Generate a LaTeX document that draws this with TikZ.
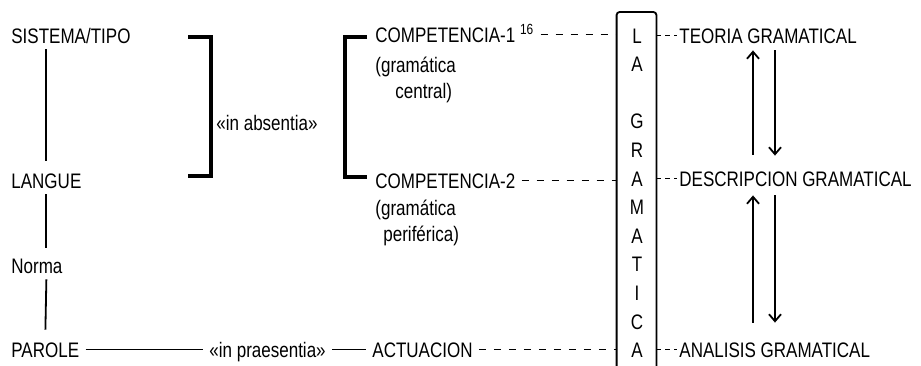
\documentclass[tikz,border=0pt]{standalone}
\usepackage{fontspec}
\setmainfont{Liberation Sans}[FakeStretch=0.81]
\usepackage{tikz}
\usetikzlibrary{arrows.meta}
\usetikzlibrary{positioning}
\tikzstyle{term}=[anchor=base west,inner sep=3pt,text height=7.5pt,text depth=0pt]
\tikzstyle{nivel}=[anchor=base west,inner sep=1pt,text height=7.5pt,text depth=0pt]
\tikzstyle{letra}=[anchor=base,inner sep=0pt]
\tikzstyle{enlace}=[draw,line width=0.9pt]
\tikzstyle{guion}=[draw,line width=0.9pt,dash pattern=on 3.5pt off 4pt]
\tikzstyle{guioncito}=[draw,line width=0.9pt,dash pattern=on 2.5pt off 2pt]
\tikzstyle{corchete}=[draw,line width=1.7pt]
\tikzstyle{flecha}=[draw,line width=0.9pt,-{Straight Barb[length=3.5pt,width=6pt]}]

\begin{document}
\begin{tikzpicture}[x=0.5pt,y=-0.5pt,font=\fontsize{10.5}{12.5}\selectfont]
\useasboundingbox (0,0) rectangle (921,365);

	% left column
	\node[term] (sis) at (5,43) {SISTEMA/TIPO};
	\node[term] (lan) at (5,188) {LANGUE};
	\node[term] (nor) at (5,273) {Norma};
	\node[term] (par) at (5,357) {PAROLE};

	\path[enlace,shorten >=3pt] (sis.south -| lan) -- (lan.north);
	\path[enlace,shorten >=2pt] (lan.south) -- (nor.north -| lan);
	\path[enlace,shorten >=3pt] (nor.south -| lan) -- (par.north);

	\node[term] (abs) at (210,130) {«in absentia»};
	\path[corchete] (188,37) -| (211,176) -- (188,176);
	\path[corchete] (367,37) -| (345,177) -- (367,177);

	% competencias
	\node[term] (com1) at (369,42) {COMPETENCIA-1 \textsuperscript{16}};
	\node[term] (gc1) at (369,72) {(gramática};
	\node[term] (gc2) at (389,98) {central)};
	\node[term] (com2) at (369,188) {COMPETENCIA-2};
	\node[term] (gp1) at (369,215) {(gramática};
	\node[term] (gp2) at (377,241) {periférica)};

	\node[term] (prae) at (203,357) {«in praesentia»};
	\node[term] (act) at (366,357) {ACTUACION};

	\path[enlace] (par.east) -- (prae.west);
	\path[enlace] (prae.east) -- (act.west);

	% la gramatica
	\node[inner sep=0pt,minimum width=19.5pt,minimum height=177pt,anchor=north] (gram) at (636.5,12) {};
	\draw[line width=0.9pt,rounded corners=1.5pt] (gram.south west) |- (gram.north) -| (gram.south east);
	\foreach \l/\k in {L/0,A/1,G/3,R/4,A/5,M/6,A/7,T/8,I/9,C/10,A/11}
		\node[letra] (l\k) at (637,43+28.6*\k) {\l};

	\path[guion] (com1.east) -- (com1.east -| gram.west);
	\path[guion] (com2.east) -- (com2.east -| gram.west);
	\path[guion] (act.east) -- (act.east -| gram.west);

	% niveles
	\node[nivel] (teo) at (677,43) {TEORIA GRAMATICAL};
	\node[nivel] (des) at (677,186) {DESCRIPCION GRAMATICAL};
	\node[nivel] (ana) at (677,357) {ANALISIS GRAMATICAL};

	\path[guioncito] (teo.west -| gram.east) -- (teo.west);
	\path[guioncito] (des.west -| gram.east) -- (des.west);
	\path[guioncito] (ana.west -| gram.east) -- (ana.west);

	\coordinate (sube) at (753,0);
	\coordinate (baja) at (775,0);
	\path[flecha,shorten <=7pt,shorten >=2.5pt] (sube |- des.north) -- (sube |- teo.south);
	\path[flecha,shorten <=2.5pt,shorten >=6.5pt] (baja |- teo.south) -- (baja |- des.north);
	\path[flecha,shorten <=8.5pt,shorten >=3.5pt] (sube |- ana.north) -- (sube |- des.south);
	\path[flecha,shorten <=3.5pt,shorten >=8.5pt] (baja |- des.south) -- (baja |- ana.north);
\end{tikzpicture}
\end{document}
